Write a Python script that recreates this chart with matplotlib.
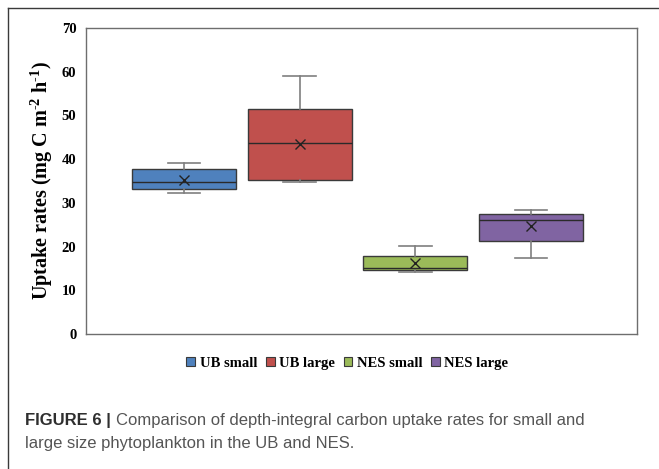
import matplotlib.pyplot as plt
from matplotlib.patches import Patch
from matplotlib.lines import Line2D

# ---------------------------------------------------------------------------
# DATA — box-and-whisker summary (mg C m-2 h-1)
# ---------------------------------------------------------------------------
groups    = ["UB small", "UB large", "NES small", "NES large"]
whisk_lo  = [32.2, 34.8, 14.2, 17.5]
q1        = [33.2, 35.2, 14.6, 21.3]
medians   = [34.8, 43.6, 15.2, 26.1]
q3        = [37.7, 51.5, 17.8, 27.4]
whisk_hi  = [39.1, 59.0, 20.2, 28.4]
means     = [35.2, 43.4, 16.2, 24.7]
colors    = ["#4F81BD", "#C0504D", "#9BBB59", "#8064A2"]
y_ticks   = [0, 10, 20, 30, 40, 50, 60, 70]

SERIF = ["Liberation Serif", "DejaVu Serif"]
SANS  = ["Liberation Sans", "DejaVu Sans"]

plt.rcParams["mathtext.fontset"] = "custom"
plt.rcParams["mathtext.rm"] = "Liberation Serif:bold"
plt.rcParams["mathtext.bf"] = "Liberation Serif:bold"

fig = plt.figure(figsize=(6.59, 4.69), dpi=100)
ax = fig.add_axes([0.1305, 0.2878, 0.8361, 0.6525])

stats = []
for i, g in enumerate(groups):
    stats.append(dict(label=g, whislo=whisk_lo[i], q1=q1[i], med=medians[i],
                      q3=q3[i], whishi=whisk_hi[i], mean=means[i]))

positions = list(range(1, len(groups) + 1))
bp = ax.bxp(stats, positions=positions, widths=0.9, patch_artist=True,
            showmeans=True, showfliers=False,
            boxprops=dict(edgecolor="#3a3a3a", linewidth=1.0),
            medianprops=dict(color="#2a2a2a", linewidth=1.0),
            whiskerprops=dict(color="#7f7f7f", linewidth=1.2),
            capprops=dict(color="#7f7f7f", linewidth=1.2),
            meanprops=dict(marker="x", markeredgecolor="#222222",
                           markersize=7, markeredgewidth=1.0))
# shorter whisker caps, as in the original
for cap in bp["caps"]:
    x0, x1 = cap.get_xdata()
    c = (x0 + x1) / 2
    cap.set_xdata([c - 0.14, c + 0.14])
for box, col in zip(bp["boxes"], colors):
    box.set_facecolor(col)

ax.set_xlim(0.155, 4.914)
ax.set_ylim(0, 70)
ax.set_yticks(y_ticks)
ax.set_yticklabels([str(t) for t in y_ticks], fontfamily=SERIF,
                   fontweight="bold", fontsize=10.5)
ax.set_xticks([])
ax.tick_params(axis="y", length=0, pad=7)
for sp in ax.spines.values():
    sp.set_color("#6e6e6e")
    sp.set_linewidth(1.0)

ax.set_ylabel(r"Uptake rates (mg C m$^{\text{-2}}$ h$^{\text{-1}}$)",
              fontfamily=SERIF, fontweight="bold", fontsize=14.5, labelpad=5)

# legend
handles = [Patch(facecolor=c, edgecolor="#3a3a3a", linewidth=0.8) for c in colors]
fig.legend(handles, groups, loc="center", bbox_to_anchor=(0.527, 0.226),
           ncol=4, frameon=False, handlelength=0.6, handleheight=0.6,
           handletextpad=0.3, columnspacing=0.6,
           prop=dict(family=SERIF, weight="bold", size=10.5))

# outer frame (open at right and bottom)
fig.add_artist(Line2D([8 / 659, 1.0], [1 - 8 / 469, 1 - 8 / 469],
                      transform=fig.transFigure, color="#3a3a3a", lw=1.0))
fig.add_artist(Line2D([8 / 659, 8 / 659], [0.0, 1 - 8 / 469],
                      transform=fig.transFigure, color="#3a3a3a", lw=1.0))

# caption
renderer = fig.canvas.get_renderer()
bold = fig.text(25 / 659, 1 - 420 / 469, "FIGURE 6 | ", fontfamily=SANS,
                fontweight="bold", fontsize=12, color="#2f2f2f", va="center")
bb = bold.get_window_extent(renderer=renderer)
fig.text(bb.x1 / fig.bbox.width, 1 - 420 / 469,
         "Comparison of depth-integral carbon uptake rates for small and",
         fontfamily=SANS, fontsize=12, color="#555555", va="center")
fig.text(25 / 659, 1 - 443 / 469,
         "large size phytoplankton in the UB and NES.",
         fontfamily=SANS, fontsize=12, color="#555555", va="center")

fig.savefig("out.png", dpi=100)
